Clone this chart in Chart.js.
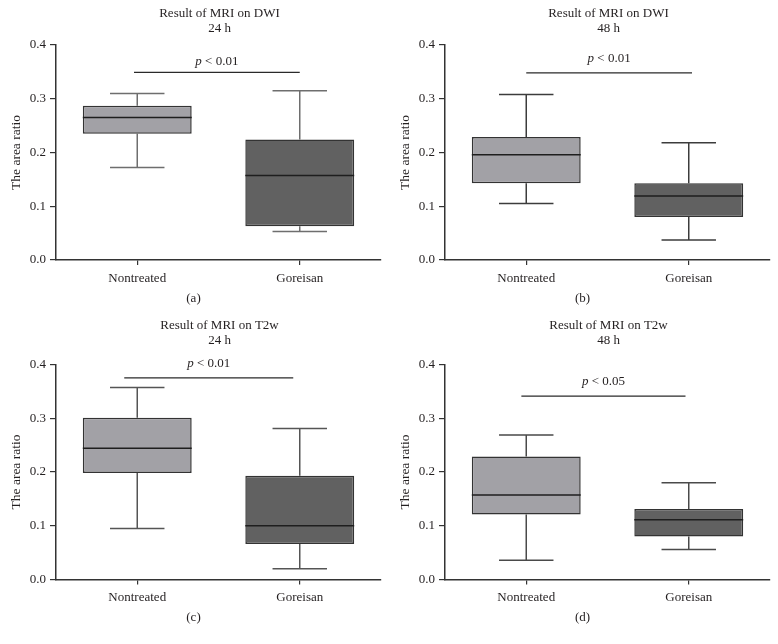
<!DOCTYPE html>
<html>
<head>
<meta charset="utf-8">
<script src="https://cdn.jsdelivr.net/npm/chart.js@4"></script>
<style>
  html, body { margin: 0; padding: 0; background: #ffffff; }
  #wrap { position: relative; width: 778px; height: 644px; background: #fff; }
  canvas { position: absolute; }
</style>
</head>
<body>
<div id="wrap">
  <canvas id="c0" width="389" height="310" style="left:0px;top:0px"></canvas>
  <canvas id="c1" width="389" height="310" style="left:389px;top:0px"></canvas>
  <canvas id="c2" width="389" height="334" style="left:0px;top:310px"></canvas>
  <canvas id="c3" width="389" height="334" style="left:389px;top:310px"></canvas>
</div>
<script>
// ---- DATA (box stats: [min, q1, median, q3, max]) ----
const categories = ['Nontreated', 'Goreisan'];
const dwi24Nontreated = [0.172, 0.235, 0.265, 0.287, 0.310];
const dwi24Goreisan   = [0.053, 0.063, 0.157, 0.224, 0.315];
const dwi48Nontreated = [0.105, 0.143, 0.196, 0.229, 0.308];
const dwi48Goreisan   = [0.037, 0.080, 0.119, 0.143, 0.218];
const t2w24Nontreated = [0.095, 0.198, 0.244, 0.301, 0.357];
const t2w24Goreisan   = [0.020, 0.066, 0.100, 0.193, 0.281];
const t2w48Nontreated = [0.036, 0.121, 0.157, 0.229, 0.269];
const t2w48Goreisan   = [0.056, 0.080, 0.111, 0.131, 0.180];
const panelTitles = [
  ['Result of MRI on DWI', '24 h'],
  ['Result of MRI on DWI', '48 h'],
  ['Result of MRI on T2w', '24 h'],
  ['Result of MRI on T2w', '48 h']
];
const captions = ['(a)', '(b)', '(c)', '(d)'];
const pLabels = ['< 0.01', '< 0.01', '< 0.01', '< 0.05'];
const pLevels = [0.349, 0.348, 0.375, 0.341];
const yTickValues = [0.0, 0.1, 0.2, 0.3, 0.4];
const yAxisTitle = 'The area ratio';

// ---- STYLE / LAYOUT ----
const FONT = '"Liberation Serif", "DejaVu Serif", serif';
const TEXT = '#231f20';
const AXIS = '#333333';
const fills = ['#a2a1a6', '#616161'];
const panels = [
  { boxes: [dwi24Nontreated, dwi24Goreisan], top: 45, bottom: 50, titleY: [14, 29], capY: 299, pGap: 11, pFrom: -0.02, pTo: 1.0, whisker: '#6e6e6e', tickPad: 6 },
  { boxes: [dwi48Nontreated, dwi48Goreisan], top: 45, bottom: 50, titleY: [14, 29], capY: 299, pGap: 14, pFrom: 0.0, pTo: 1.02, whisker: '#3c3c3c', tickPad: 6 },
  { boxes: [t2w24Nontreated, t2w24Goreisan], top: 54.5, bottom: 64.5, titleY: [16, 31], capY: 308, pGap: 14, pFrom: -0.08, pTo: 0.96, whisker: '#555555', tickPad: 5 },
  { boxes: [t2w48Nontreated, t2w48Goreisan], top: 54.5, bottom: 64.5, titleY: [16, 31], capY: 308, pGap: 15, pFrom: -0.03, pTo: 0.98, whisker: '#4a4a4a', tickPad: 5 }
];

const boxPlugin = {
  id: 'boxExtras',
  beforeDatasetsDraw(chart) {
    const p = chart.$panel;
    const ctx = chart.ctx;
    const xs = chart.scales.x, ys = chart.scales.y;
    const meta = chart.getDatasetMeta(0);
    ctx.save();
    ctx.strokeStyle = p.whisker;
    ctx.lineWidth = 1.5;
    p.boxes.forEach((b, i) => {
      const bar = meta.data[i];
      const cx = xs.getPixelForValue(i);
      const half = bar.width / 4;
      const yMin = ys.getPixelForValue(b[0]);
      const yQ1 = ys.getPixelForValue(b[1]);
      const yQ3 = ys.getPixelForValue(b[3]);
      const yMax = ys.getPixelForValue(b[4]);
      ctx.beginPath();
      ctx.moveTo(cx, yQ3); ctx.lineTo(cx, yMax);
      ctx.moveTo(cx - half, yMax); ctx.lineTo(cx + half, yMax);
      ctx.moveTo(cx, yQ1); ctx.lineTo(cx, yMin);
      ctx.moveTo(cx - half, yMin); ctx.lineTo(cx + half, yMin);
      ctx.stroke();
    });
    ctx.restore();
  },
  afterDatasetsDraw(chart) {
    const p = chart.$panel;
    const ctx = chart.ctx;
    const ys = chart.scales.y;
    const meta = chart.getDatasetMeta(0);
    ctx.save();
    ctx.strokeStyle = '#1e1e1e';
    ctx.lineWidth = 1.5;
    p.boxes.forEach((b, i) => {
      const bar = meta.data[i];
      const yMed = ys.getPixelForValue(b[2]);
      ctx.beginPath();
      ctx.moveTo(bar.x - bar.width / 2, yMed);
      ctx.lineTo(bar.x + bar.width / 2, yMed);
      ctx.stroke();
    });
    ctx.restore();
  },
  afterDraw(chart) {
    const p = chart.$panel;
    const ctx = chart.ctx;
    const ca = chart.chartArea;
    const xs = chart.scales.x, ys = chart.scales.y;
    ctx.save();
    ctx.fillStyle = TEXT;
    ctx.textAlign = 'center';
    ctx.textBaseline = 'middle';
    ctx.font = '13px ' + FONT;
    const midX = (ca.left + ca.right) / 2 + 1;
    ctx.fillText(p.title[0], midX, p.titleY[0]);
    ctx.fillText(p.title[1], midX, p.titleY[1]);
    // significance bar
    const yP = ys.getPixelForValue(p.level);
    const x1 = xs.getPixelForValue(p.pFrom), x2 = xs.getPixelForValue(p.pTo);
    ctx.strokeStyle = '#2a2a2a';
    ctx.lineWidth = 1.3;
    ctx.beginPath();
    ctx.moveTo(x1, yP); ctx.lineTo(x2, yP);
    ctx.stroke();
    const pm = (x1 + x2) / 2;
    ctx.font = 'italic 13px ' + FONT;
    const wP = ctx.measureText('p').width;
    ctx.font = '13px ' + FONT;
    const wR = ctx.measureText(' ' + p.pLabel).width;
    const startX = pm - (wP + wR) / 2;
    ctx.textAlign = 'left';
    ctx.font = 'italic 13px ' + FONT;
    ctx.fillText('p', startX, yP - p.pGap);
    ctx.font = '13px ' + FONT;
    ctx.fillText(' ' + p.pLabel, startX + wP, yP - p.pGap);
    // caption
    ctx.textAlign = 'center';
    ctx.fillText(p.caption, chart.width / 2 - 1, p.capY);
    ctx.restore();
  }
};

panels.forEach((p, k) => {
  p.title = panelTitles[k];
  p.caption = captions[k];
  p.pLabel = pLabels[k];
  p.level = pLevels[k];
  new Chart(document.getElementById('c' + k), {
    type: 'bar',
    data: {
      labels: categories,
      datasets: [{
        data: p.boxes.map(b => [b[1], b[3]]),
        backgroundColor: fills,
        borderColor: '#333333',
        borderWidth: 1.5,
        borderSkipped: false,
        categoryPercentage: 0.67,
        barPercentage: 1.0
      }]
    },
    options: {
      responsive: false,
      animation: false,
      events: [],
      layout: { padding: { top: p.top, bottom: p.bottom - 30, left: 0, right: 8 } },
      plugins: { legend: { display: false }, title: { display: false }, tooltip: { enabled: false } },
      scales: {
        x: {
          type: 'category',
          offset: true,
          grid: { display: true, drawOnChartArea: false, drawTicks: true, tickLength: 5, color: AXIS, lineWidth: 1.2, offset: false },
          border: { display: true, color: AXIS, width: 1.5 },
          ticks: { color: TEXT, font: { family: FONT, size: 13 }, padding: p.tickPad, maxRotation: 0, autoSkip: false },
          afterFit: s => { s.height = 30; }
        },
        y: {
          min: 0, max: 0.4,
          afterBuildTicks: s => { s.ticks = yTickValues.map(v => ({ value: v })); },
          grid: { display: true, drawOnChartArea: false, drawTicks: true, tickLength: 6, color: AXIS, lineWidth: 1.2 },
          border: { display: true, color: AXIS, width: 1.5 },
          ticks: { color: TEXT, font: { family: FONT, size: 13 }, padding: 4, callback: v => Number(v).toFixed(1) },
          title: { display: true, text: yAxisTitle, color: TEXT, font: { family: FONT, size: 13.5 }, padding: { top: 8, bottom: 0 } },
          afterFit: s => { s.width = 56; }
        }
      }
    },
    plugins: [{ id: 'panelRef', beforeInit(c) { c.$panel = p; } }, boxPlugin]
  });
});
</script>
</body>
</html>
